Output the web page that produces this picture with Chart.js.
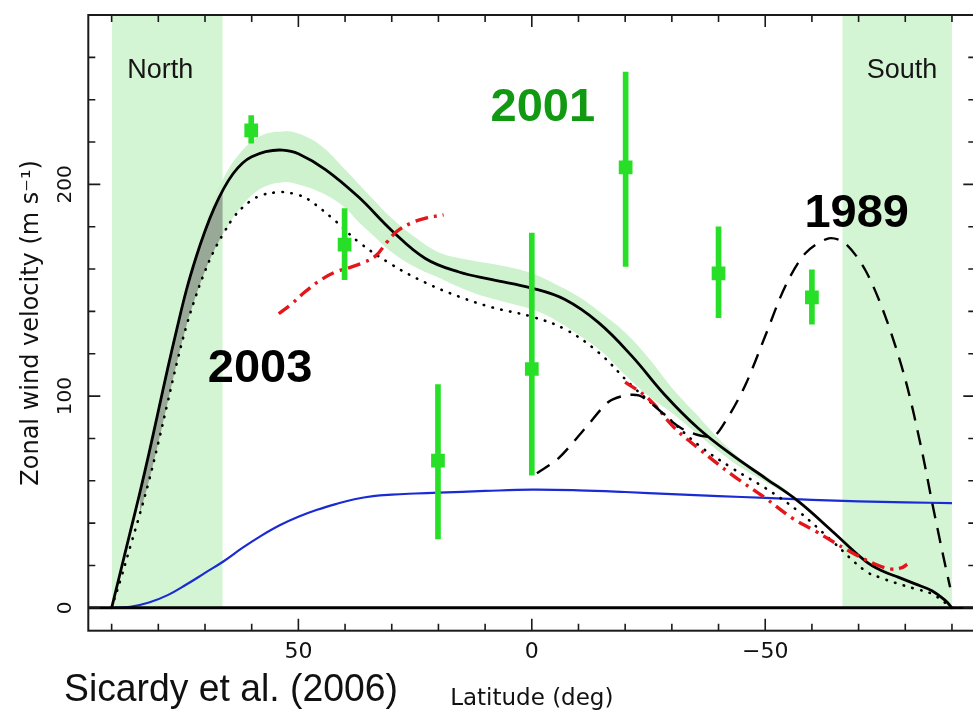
<!DOCTYPE html>
<html><head><meta charset="utf-8">
<script src="https://cdn.jsdelivr.net/npm/chart.js@4.4.1/dist/chart.umd.min.js"></script>
<style>
html,body{margin:0;padding:0;background:#fff;overflow:hidden;width:973px;height:714px;}
#wrap{position:absolute;left:0;top:0;width:985px;height:714px;}
</style></head><body>
<div id="wrap"><canvas id="c"></canvas></div>
<script>
// ---------------- data ----------------
// 2003 fit (solid black)
const fit2003Lat = [90, 88, 86, 84, 82, 80, 78, 76, 74, 72, 70, 68, 66, 64, 62, 60, 57, 53.4, 50, 44.2, 37.1, 29.9, 22.8, 15.6, 8.5, 0, -7.1, -14.3, -21.4, -28.6, -35.7, -42.9, -50, -57.1, -64.3, -71.4, -75, -78.6, -82.1, -85.7, -88.6, -90];
const fit2003Vel = [0, 18, 36, 54, 73, 93, 113, 132, 150, 165, 178, 189, 198, 205, 210, 213, 215.5, 216.2, 214.5, 207, 194, 178, 165, 158.6, 155, 151, 145.6, 134.7, 119, 100.3, 84.7, 72.2, 61.3, 50.3, 36.3, 22.2, 17.5, 14.4, 11.3, 8.1, 3.4, 0];
// alternative 2003 fit (dotted black)
const altLat = [90, 88, 86, 84, 82, 80, 78, 76, 74, 72, 70, 68, 66, 64, 62, 60, 58, 55, 53.4, 50, 47.8, 42.1, 37.1, 29.9, 22.8, 15.6, 8.5, 0, -7.1, -14.3, -21.4, -28.6, -35.7, -42.9, -50, -57.1, -64.3, -71.4, -75, -78.6, -82.1, -85.7, -90];
const altVel = [0, 14, 29, 44, 60, 78, 97, 116, 133, 147, 159, 169, 177, 184, 189, 192.5, 194.8, 196.2, 196.4, 195, 192.8, 182.8, 172.8, 162, 153.6, 147, 141.9, 137.5, 131.6, 120.6, 105, 91, 76.9, 66, 56.6, 45.6, 31.6, 17.5, 14, 11.3, 9, 6.6, 0];
// uncertainty envelope of the 2003 fit (light green)
const envLat = [84, 80, 75, 70, 66, 62, 58, 53.4, 50, 45, 40, 37, 34, 30, 25, 20, 15, 10, 5, 0, -5, -10, -15, -20, -25, -30, -35, -40, -45, -50, -55];
const envHigh = [57, 97, 143, 181, 203, 216, 223, 225, 224, 218, 207, 200, 193, 184, 175, 168, 165, 163, 161, 158, 153, 147, 139, 130, 118, 104, 92, 80, 70, 62.5, 55];
const envLow = [44, 78, 125, 159, 177, 190, 198, 201, 200, 196, 189, 182, 176, 168, 161, 156, 151, 147, 144, 141, 136, 129, 121, 110, 100, 92, 83, 74, 66, 59.5, 53];
// darker overlap of envelope inside the northern polar band
const overlapLat = [84, 82, 80, 78, 76, 74, 72, 70, 68, 66.2];
const overlapHigh = [54, 73, 93, 113, 132, 150, 165, 178, 189, 197.3];
const overlapLow = [44, 60, 78, 97, 116, 133, 147, 159, 169, 176.5];
// red dash-dot model (two pieces)
const redALat = [54.2, 51.4, 48.5, 44.9, 42.1, 39.2, 36.4, 33.5, 31, 28.9, 25.6, 22.8, 18.9];
const redAVel = [138.9, 143.6, 149.4, 155.3, 158.6, 160.6, 162.8, 166.1, 172.8, 177.8, 182, 184, 185.6];
const redBLat = [-20, -25, -30.7, -35.7, -42.9, -50, -55.7, -60.7, -67.9, -73.6, -77.1, -79.3, -80.4];
const redBVel = [106.6, 98.8, 84.7, 75.3, 62.8, 51.9, 42.5, 36.3, 26.9, 20.6, 18.3, 19, 20.6];
// 1989 profile (dashed black)
const y1989Lat = [-1.1, -5.7, -11.4, -16.4, -20, -22.9, -25.7, -32.1, -38.6, -41.4, -45.7, -50, -54.3, -58.6, -63.6, -67.1, -71.4, -75.7, -80, -83.6, -85.7, -87.9, -89.6];
const y1989Vel = [63.6, 70.6, 84.7, 97.2, 100.3, 100.3, 96.4, 84.7, 80.8, 87.8, 105, 128.4, 151.9, 167.5, 174.5, 172.2, 159.7, 137.8, 108, 73.8, 50.3, 26.9, 9.7];
// blue profile
const blueLat = [90, 86, 82, 78, 74, 70, 66, 62, 58, 54, 50, 46, 42, 38, 34, 30, 25, 20, 10, 0, -10, -20, -30, -40, -50, -60, -70, -80, -90];
const blueVel = [0, 0.5, 2.5, 6, 11, 16.5, 22, 28.3, 34, 39, 43, 46.3, 49, 51.3, 52.8, 53.5, 54, 54.4, 55.2, 55.8, 55.5, 54.7, 53.7, 52.8, 51.9, 51, 50.3, 49.8, 49.5];
// 2001 measurements (green squares with error bars)
const obsLat = [60.1, 40.1, 20.1, 0, -20.1, -40, -60];
const obsVel = [225.5, 171.5, 69.5, 112.8, 208, 158, 146.6];
const obsLow = [219.5, 155, 32.6, 62.6, 161.3, 137, 134];
const obsHigh = [232.5, 188.6, 105.5, 177, 253, 180, 159.6];
// polar shaded bands (latitude limits) and their top
const northBandLat = [90, 66.2];
const southBandLat = [-66.5, -90];
const bandTopVel = [280, 280];
// zero reference line
const zeroLat = [95, -95];
const zeroVel = [0, 0];
// axis ticks
const xMajorTicks = [50, 0, -50];
const xAllTicks = [90, 80, 70, 60, 50, 40, 30, 20, 10, 0, -10, -20, -30, -40, -50, -60, -70, -80, -90];
const yMajorTicks = [0, 100, 200];
const yAllTicks = [0, 20, 40, 60, 80, 100, 120, 140, 160, 180, 200, 220, 240, 260];

// ---------------- helpers ----------------
const pts = (xs, ys) => xs.map((x, i) => ({x: x, y: ys[i]}));
const fmt = v => (v < 0 ? '\u2212' + Math.abs(v) : String(v));

const GREEN_BAND = '#d4f5d4';
const ENV = '#cdf2cd';
const FONT = 'DejaVu Sans';

const textLabels = [
  {text: 'North', lat: 79.6, vel: 254, font: '27px "Liberation Sans", Arial, sans-serif', color: '#151515'},
  {text: 'South', lat: -79.3, vel: 254, font: '27px "Liberation Sans", Arial, sans-serif', color: '#151515'},
  {text: '2001', lat: -2.35, vel: 236.2, font: 'bold 47px "Liberation Sans", Arial, sans-serif', color: '#129912'},
  {text: '2003', lat: 58.2, vel: 112.6, font: 'bold 47px "Liberation Sans", Arial, sans-serif', color: '#000'},
  {text: '1989', lat: -69.6, vel: 186, font: 'bold 47px "Liberation Sans", Arial, sans-serif', color: '#000'}
];

const overlay = {
  id: 'overlay',
  afterDatasetsDraw(chart) {
    const {ctx, chartArea: a, scales: {x, y}} = chart;
    ctx.save();
    // frame
    ctx.strokeStyle = '#1a1a1a';
    ctx.lineWidth = 2;
    ctx.strokeRect(a.left, a.top, a.right - a.left, a.bottom - a.top);
    // inward ticks
    ctx.lineWidth = 1.6;
    ctx.beginPath();
    xAllTicks.forEach(v => {
      const px = x.getPixelForValue(v);
      const len = xMajorTicks.includes(v) ? 12 : 7;
      ctx.moveTo(px, a.bottom); ctx.lineTo(px, a.bottom - len);
      ctx.moveTo(px, a.top); ctx.lineTo(px, a.top + len);
    });
    yAllTicks.forEach(v => {
      const py = y.getPixelForValue(v);
      const len = yMajorTicks.includes(v) ? 12 : 7;
      ctx.moveTo(a.left, py); ctx.lineTo(a.left + len, py);
      ctx.moveTo(a.right, py); ctx.lineTo(a.right - len, py);
    });
    ctx.stroke();
    // annotations
    ctx.textAlign = 'center';
    ctx.textBaseline = 'middle';
    textLabels.forEach(l => {
      ctx.font = l.font;
      ctx.fillStyle = l.color;
      ctx.fillText(l.text, x.getPixelForValue(l.lat), y.getPixelForValue(l.vel));
    });
    ctx.restore();
  },
  afterDraw(chart) {
    const ctx = chart.ctx;
    ctx.save();
    ctx.font = '39px "Liberation Sans", Arial, sans-serif';
    ctx.fillStyle = '#111';
    ctx.textAlign = 'left';
    ctx.textBaseline = 'alphabetic';
    const w = ctx.measureText('Sicardy et al. (2006)').width;
    ctx.translate(64, 701);
    ctx.scale(334 / w, 1);
    ctx.fillText('Sicardy et al. (2006)', 0, 0);
    ctx.restore();
  }
};

const line = (data, extra) => Object.assign({
  type: 'line', data: data, pointRadius: 0, fill: false, borderWidth: 2.5,
  cubicInterpolationMode: 'default', tension: 0.4
}, extra);

const datasets = [
  line(pts(northBandLat, bandTopVel), {label: 'north band', fill: 'origin', backgroundColor: GREEN_BAND, borderWidth: 0, borderColor: 'rgba(0,0,0,0)', order: 30, tension: 0}),
  line(pts(southBandLat, bandTopVel), {label: 'south band', fill: 'origin', backgroundColor: GREEN_BAND, borderWidth: 0, borderColor: 'rgba(0,0,0,0)', order: 29, tension: 0}),
  line(pts(envLat, envHigh), {label: 'env high', fill: '+1', backgroundColor: ENV, borderWidth: 0, borderColor: 'rgba(0,0,0,0)', order: 28}),
  line(pts(envLat, envLow), {label: 'env low', borderWidth: 0, borderColor: 'rgba(0,0,0,0)', order: 27}),
  line(pts(overlapLat, overlapHigh), {label: 'overlap high', fill: '+1', backgroundColor: '#98a998', borderWidth: 0, borderColor: 'rgba(0,0,0,0)', order: 26}),
  line(pts(overlapLat, overlapLow), {label: 'overlap low', borderWidth: 0, borderColor: 'rgba(0,0,0,0)', order: 25}),
  line(pts(blueLat, blueVel), {label: 'blue', borderColor: '#1a2bd4', borderWidth: 2.2, order: 10}),
  line(pts(altLat, altVel), {label: 'dotted', borderColor: '#000', borderWidth: 2.6, borderDash: [0.5, 8.5], borderCapStyle: 'round', order: 9}),
  line(pts(fit2003Lat, fit2003Vel), {label: '2003', borderColor: '#000', borderWidth: 2.8, order: 8}),
  line(pts(redALat, redAVel), {label: 'red A', borderColor: '#e3161b', borderWidth: 3.4, borderDash: [13, 6, 3, 6], order: 7}),
  line(pts(redBLat, redBVel), {label: 'red B', borderColor: '#e3161b', borderWidth: 3.4, borderDash: [13, 6, 3, 6], order: 7}),
  line(pts(y1989Lat, y1989Vel), {label: '1989', borderColor: '#000', borderWidth: 2.4, borderDash: [15, 10], order: 6, tension: 0.3}),
  line(pts(zeroLat, zeroVel), {label: 'zero', borderColor: '#000', borderWidth: 3, order: 5, tension: 0}),
  {type: 'bar', label: 'error bars', data: obsLat.map((lat, i) => ({x: lat, y: [obsLow[i], obsHigh[i]]})),
   backgroundColor: '#27df27', borderWidth: 0, barThickness: 5, order: 2},
  line(pts(obsLat, obsVel), {label: '2001', showLine: false, pointStyle: 'rect', pointRadius: 9.7, pointBackgroundColor: '#27df27', pointBorderWidth: 0, pointBorderColor: '#27df27', order: 1})
];

new Chart(document.getElementById('c'), {
  type: 'line',
  data: {datasets: datasets},
  options: {
    responsive: true, maintainAspectRatio: false, animation: false, devicePixelRatio: 1,
    layout: {padding: {top: 9.4, right: 9.4, left: 0, bottom: 0}},
    plugins: {legend: {display: false}, tooltip: {enabled: false}},
    scales: {
      x: {
        type: 'linear', min: -95, max: 95, reverse: true, offset: false,
        grid: {display: false, drawTicks: false, offset: false}, border: {display: false},
        afterBuildTicks: s => { s.ticks = xMajorTicks.map(v => ({value: v})); },
        afterFit: s => { s.height = 83.3; },
        ticks: {padding: 8, autoSkip: false, maxRotation: 0, font: {family: FONT, size: 22}, color: '#111', callback: v => fmt(v)},
        title: {display: true, text: 'Latitude (deg)', font: {family: FONT, size: 23}, color: '#111', padding: {top: 0, bottom: 1}}
      },
      y: {
        type: 'linear', min: -10.8, max: 280,
        grid: {display: false, drawTicks: false}, border: {display: false},
        afterBuildTicks: s => { s.ticks = yMajorTicks.map(v => ({value: v})); },
        afterFit: s => { s.width = 88.3; },
        ticks: {padding: 3, minRotation: 90, maxRotation: 90, crossAlign: 'center', font: {family: FONT, size: 20}, color: '#111', callback: v => fmt(v)},
        title: {display: true, text: 'Zonal wind velocity (m s\u207B\u00B9)', font: {family: FONT, size: 24}, color: '#111', padding: {top: 17, bottom: 0}}
      }
    }
  },
  plugins: [overlay]
});
</script>
</body></html>
